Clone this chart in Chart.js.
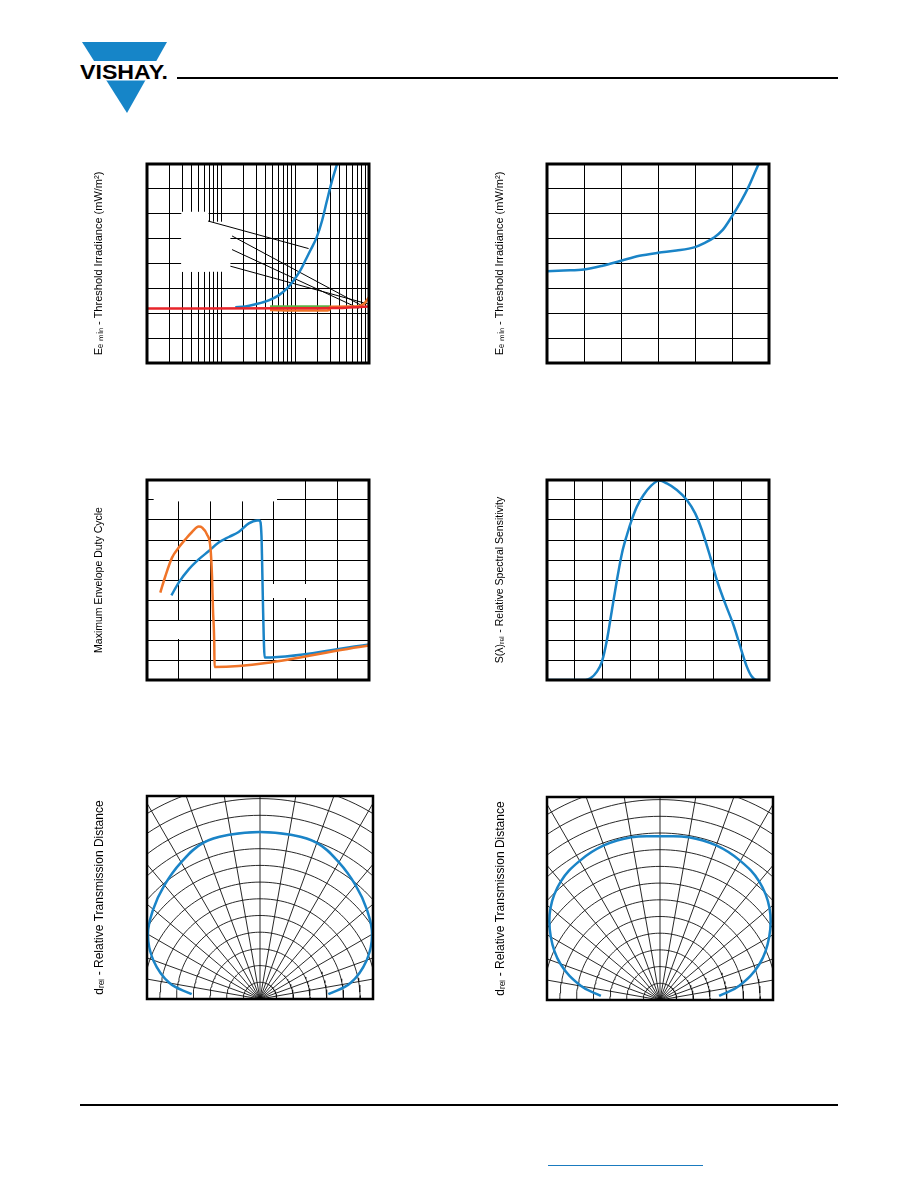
<!DOCTYPE html>
<html>
<head>
<meta charset="utf-8">
<script src="https://cdn.jsdelivr.net/npm/chart.js@4.4.0/dist/chart.umd.min.js"></script>
<style>
body { margin: 0; background: #fff; }
#page { position: relative; width: 918px; height: 1188px; overflow: hidden; background: #fff; }
#page canvas { position: absolute; }
.rule { position: absolute; background: #000; }
</style>
</head>
<body>
<div id="page">
  <svg style="position:absolute;left:0;top:0" width="200" height="120">
    <polygon points="82,42 167,42 127,113" fill="#1685c8"/>
    <rect x="70" y="61" width="110" height="19.5" fill="#fff"/>
    <text x="80" y="78.5" font-family="Liberation Sans, Arial, sans-serif" font-weight="bold" font-size="21" textLength="88" lengthAdjust="spacingAndGlyphs">VISHAY.</text>
  </svg>
  <div class="rule" style="left:177px;top:77px;width:661px;height:2px"></div>
  <div class="rule" style="left:80px;top:1104px;width:758px;height:2px"></div>
  <div class="rule" style="left:548px;top:1165px;width:155px;height:1px;background:#1a7bbf"></div>
  <canvas id="fig1"></canvas>
  <canvas id="fig2"></canvas>
  <canvas id="fig3"></canvas>
  <canvas id="fig4"></canvas>
  <canvas id="fig5"></canvas>
  <canvas id="fig6"></canvas>
</div>
<script>
// ---- data ----

// Fig 1: threshold irradiance vs. AC ripple on supply (log x, mV)
var rippleBlue = [15.6, 21.3, 29.1, 44.1, 60.1, 78, 95.9, 118, 138, 161, 198, 232, 270, 316, 370];
var eeBlue     = [0.56, 0.567, 0.59, 0.63, 0.68, 0.75, 0.83, 0.93, 1.03, 1.13, 1.27, 1.43, 1.63, 1.83, 2.0];
var rippleRed  = [1, 100, 316, 1000];
var eeRed      = [0.548, 0.55, 0.552, 0.567];
var rippleGreen = [46, 300];
var eeGreen     = [0.567, 0.567];
var rippleOrange = [46, 110, 250, 290, 300, 650, 850, 1000];
var eeOrange     = [0.533, 0.527, 0.527, 0.533, 0.565, 0.567, 0.593, 0.66];
// leader lines from the (blank) legend labels: [x0, y0, x1, y1]
var leaders = [
  [6.67, 1.427, 152.6, 1.15],
  [14.1, 1.277, 847, 0.567],
  [14.1, 1.14, 725, 0.55],
  [13.4, 0.973, 969, 0.593]
];

// Fig 2: threshold irradiance vs. ambient temperature
var tempC   = [-30, -21, -10, 0, 10, 20, 30, 40, 50, 55, 60, 65, 70, 75, 79, 82, 84.4];
var eeTemp  = [0.369, 0.372, 0.376, 0.391, 0.411, 0.431, 0.443, 0.452, 0.466, 0.482, 0.503, 0.535, 0.59, 0.652, 0.709, 0.76, 0.8];

// Fig 3: max envelope duty cycle vs. burst length
var burstOrange = [8.4, 11.6, 15.8, 20, 24.2, 28.4, 32.6, 34.8, 37.8, 40, 41, 41.6, 42.4, 42.6, 140];
var dutyOrange  = [0.437, 0.52, 0.612, 0.662, 0.703, 0.74, 0.767, 0.762, 0.728, 0.662, 0.52, 0.353, 0.187, 0.065, 0.173];
var burstBlue   = [15.4, 20, 26.3, 32.6, 39, 45.2, 51.6, 57.8, 64.2, 69.4, 71, 72.2, 72.6, 73.2, 74.2, 140];
var dutyBlue    = [0.423, 0.487, 0.553, 0.603, 0.645, 0.687, 0.715, 0.74, 0.783, 0.798, 0.798, 0.72, 0.587, 0.353, 0.112, 0.178];

// Fig 4: relative spectral sensitivity vs. wavelength (nm)
var lambdaNm = [750, 819, 828, 840, 849, 858, 867, 876, 885, 894, 903, 912, 924, 936, 952, 966, 984, 1002, 1017, 1029, 1044, 1056, 1071, 1086, 1101, 1110, 1119, 1128, 1150];
var sRel     = [0, 0, 0.008, 0.042, 0.092, 0.2, 0.35, 0.5, 0.633, 0.725, 0.803, 0.867, 0.925, 0.967, 0.997, 0.983, 0.95, 0.9, 0.833, 0.75, 0.617, 0.5, 0.383, 0.275, 0.142, 0.067, 0.017, 0, 0];

// Fig 5 / 6: directivity, angle in degrees vs. relative distance
var dirAngles = [-86, -80, -70, -60, -50, -40, -30, -20, -10, 0, 10, 20, 30, 40, 50, 60, 70, 80, 86];
var dirLeft   = [0.41, 0.55, 0.68, 0.775, 0.835, 0.89, 0.945, 0.995, 1.0, 1.0, 1.0, 0.995, 0.945, 0.89, 0.835, 0.775, 0.68, 0.55, 0.41];
var dirRight  = [0.355, 0.48, 0.635, 0.755, 0.856, 0.925, 0.962, 0.985, 0.99, 0.98, 0.99, 0.985, 0.962, 0.925, 0.856, 0.755, 0.635, 0.48, 0.355];

// polar grid
var ringRadii = [0.1, 0.2, 0.3, 0.4, 0.5, 0.6, 0.7, 0.8, 0.9, 1.0, 1.1, 1.2, 1.3, 1.4];
var spokeAngles = [-90, -80, -70, -60, -50, -40, -30, -20, -10, 0, 10, 20, 30, 40, 50, 60, 70, 80, 90];

// ---- colours ----
var BLUE = '#1a84c7';
var ORANGE = '#f07428';
var RED = '#e8242a';
var GREEN = '#5db346';

Chart.defaults.font.family = '"Liberation Sans", Arial, sans-serif';
Chart.defaults.color = '#000';
Chart.defaults.animation = false;
Chart.defaults.events = [];
Chart.defaults.plugins.legend.display = false;
Chart.defaults.plugins.tooltip.enabled = false;

// thick box round the plot
Chart.register({
  id: 'frame',
  afterDatasetsDraw: function (chart, args, opts) {
    var a = chart.chartArea, ctx = chart.ctx;
    ctx.save();
    ctx.lineWidth = opts.width || 3;
    ctx.strokeStyle = '#000';
    ctx.strokeRect(a.left, a.top, a.right - a.left, a.bottom - a.top);
    ctx.restore();
  }
});
// white patches where the legend text sat
Chart.register({
  id: 'mask',
  beforeDatasetsDraw: function (chart, args, opts) {
    if (!opts.boxes) return;
    var xs = chart.scales.x, ys = chart.scales.y, ctx = chart.ctx;
    ctx.save();
    ctx.fillStyle = '#fff';
    opts.boxes.forEach(function (b) {
      var x0 = xs.getPixelForValue(b[0]), x1 = xs.getPixelForValue(b[1]);
      var y0 = ys.getPixelForValue(b[3]), y1 = ys.getPixelForValue(b[2]);
      ctx.fillRect(x0, y0, x1 - x0, y1 - y0);
    });
    ctx.restore();
  }
});

function pts(xs, ys) {
  return xs.map(function (x, i) { return {x: x, y: ys[i]}; });
}
function polarPts(angles, dist) {
  return angles.map(function (a, i) {
    var r = a * Math.PI / 180;
    return {x: dist[i] * Math.sin(r), y: dist[i] * Math.cos(r)};
  });
}
function curve(data, color, width, order, extra) {
  return Object.assign({data: data, showLine: true, borderColor: color, borderWidth: width,
    pointRadius: 0, fill: false, order: order, cubicInterpolationMode: 'monotone'}, extra || {});
}
function gridAxis(min, max, step) {
  return {min: min, max: max, ticks: {display: false, stepSize: step},
    grid: {color: '#000', lineWidth: 1, drawTicks: false}, border: {display: false}};
}

function makeChart(id, box, titleX, titleText, titleSize, xAxis, yAxis, datasets, plugins) {
  var lh = titleSize * 1.2;
  var cl = Math.round(titleX - lh / 2 - 2);
  var padTop = titleX - cl - lh / 2;
  var padBottom = box.l - cl - lh - padTop;
  var cv = document.getElementById(id);
  cv.width = box.r - cl + 3;
  cv.height = box.b - box.t + 6;
  cv.style.left = cl + 'px';
  cv.style.top = (box.t - 3) + 'px';
  yAxis.title = {display: true, text: titleText, color: '#000',
    font: {size: titleSize}, padding: {top: padTop, bottom: padBottom}};
  return new Chart(cv, {
    type: 'scatter',
    data: {datasets: datasets},
    options: {
      responsive: false,
      devicePixelRatio: 1,
      layout: {padding: {left: 0, top: 3, right: 3, bottom: 3}},
      scales: {x: xAxis, y: yAxis},
      plugins: plugins
    }
  });
}

// ---- Fig 1 ----
var logGrid = [];
[1, 10, 100].forEach(function (d) { for (var m = 1; m <= 9; m++) logGrid.push(m * d); });
logGrid.push(1000);
var x1 = {type: 'logarithmic', min: 1, max: 1000, ticks: {display: false},
  grid: {color: '#000', lineWidth: 1, drawTicks: false}, border: {display: false},
  afterBuildTicks: function (ax) { ax.ticks = logGrid.map(function (v) { return {value: v}; }); }};
var fig1Sets = leaders.map(function (l) {
  return curve([{x: l[0], y: l[1]}, {x: l[2], y: l[3]}], '#000', 1, 5, {cubicInterpolationMode: 'default'});
});
fig1Sets.push(curve(pts(rippleGreen, eeGreen), GREEN, 2.5, 4));
fig1Sets.push(curve(pts(rippleOrange, eeOrange), ORANGE, 2.5, 3));
fig1Sets.push(curve(pts(rippleBlue, eeBlue), BLUE, 2.5, 2));
fig1Sets.push(curve(pts(rippleRed, eeRed), RED, 2.5, 1));
makeChart('fig1', {l: 147, t: 164, r: 369, b: 363}, 99,
  'E\u2091 \u2098\u1d62\u2099 - Threshold Irradiance (mW/m\u00b2)', 11,
  x1, gridAxis(0, 2, 0.25), fig1Sets,
  {frame: {width: 3}, mask: {boxes: [[2.91, 6.8, 0.917, 1.52], [2.91, 13.4, 0.917, 1.42]]}});

// ---- Fig 2 ----
makeChart('fig2', {l: 547, t: 164, r: 769, b: 363}, 500,
  'E\u2091 \u2098\u1d62\u2099 - Threshold Irradiance (mW/m\u00b2)', 11,
  gridAxis(-30, 90, 20), gridAxis(0, 0.8, 0.1),
  [curve(pts(tempC, eeTemp), BLUE, 2.5, 1)],
  {frame: {width: 3}});

// ---- Fig 3 ----
makeChart('fig3', {l: 147, t: 480, r: 369, b: 680}, 99,
  'Maximum Envelope Duty Cycle', 10.5,
  gridAxis(0, 140, 20), gridAxis(0, 1, 0.1),
  [curve(pts(burstOrange, dutyOrange), ORANGE, 2.5, 1),
   curve(pts(burstBlue, dutyBlue), BLUE, 2.5, 2)],
  {frame: {width: 3}, mask: {boxes: [[4.2, 82, 0.893, 1.0], [1, 21, 0.205, 0.295], [76, 101, 0.41, 0.48]]}});

// ---- Fig 4 ----
makeChart('fig4', {l: 547, t: 480, r: 769, b: 680}, 500,
  'S(\u03bb)\u1d63\u2091\u2097 - Relative Spectral Sensitivity', 10.5,
  gridAxis(750, 1150, 50), gridAxis(0, 1, 0.1),
  [curve(pts(lambdaNm, sRel), BLUE, 2.5, 1)],
  {frame: {width: 3}});

// ---- Fig 5 / 6 (polar grid drawn in x/y units) ----
function polarSets(dist) {
  var sets = [];
  ringRadii.forEach(function (r) {
    var ring = [];
    for (var a = -90; a <= 90; a += 2) ring.push(a);
    sets.push(curve(polarPts(ring, ring.map(function () { return r; })), '#111', 0.9, 5,
      {cubicInterpolationMode: 'default', tension: 0, clip: 0}));
  });
  spokeAngles.forEach(function (a) {
    sets.push(curve(polarPts([a, a], [0, 1.6]), '#111', 0.9, 5,
      {cubicInterpolationMode: 'default', tension: 0, clip: 0}));
  });
  sets.push(curve(polarPts(dirAngles, dist), BLUE, 2.5, 1,
    {cubicInterpolationMode: 'default', tension: 0.4}));
  return sets;
}
var halfW = 113 / 167, topR = 203 / 167;
function polarAxes() {
  return {
    x: {display: false, min: -halfW, max: halfW},
    y: {min: 0, max: topR, ticks: {display: false},
      grid: {display: false, drawTicks: false}, border: {display: false}}
  };
}
var p5 = polarAxes();
makeChart('fig5', {l: 147, t: 796, r: 373, b: 999}, 100,
  'd\u1d63\u2091\u2097 - Relative Transmission Distance', 12,
  p5.x, p5.y, polarSets(dirLeft), {frame: {width: 2.5}});
var p6 = polarAxes();
makeChart('fig6', {l: 547, t: 797, r: 773, b: 1000}, 501,
  'd\u1d63\u2091\u2097 - Relative Transmission Distance', 12,
  p6.x, p6.y, polarSets(dirRight), {frame: {width: 2.5}});
</script>
</body>
</html>
